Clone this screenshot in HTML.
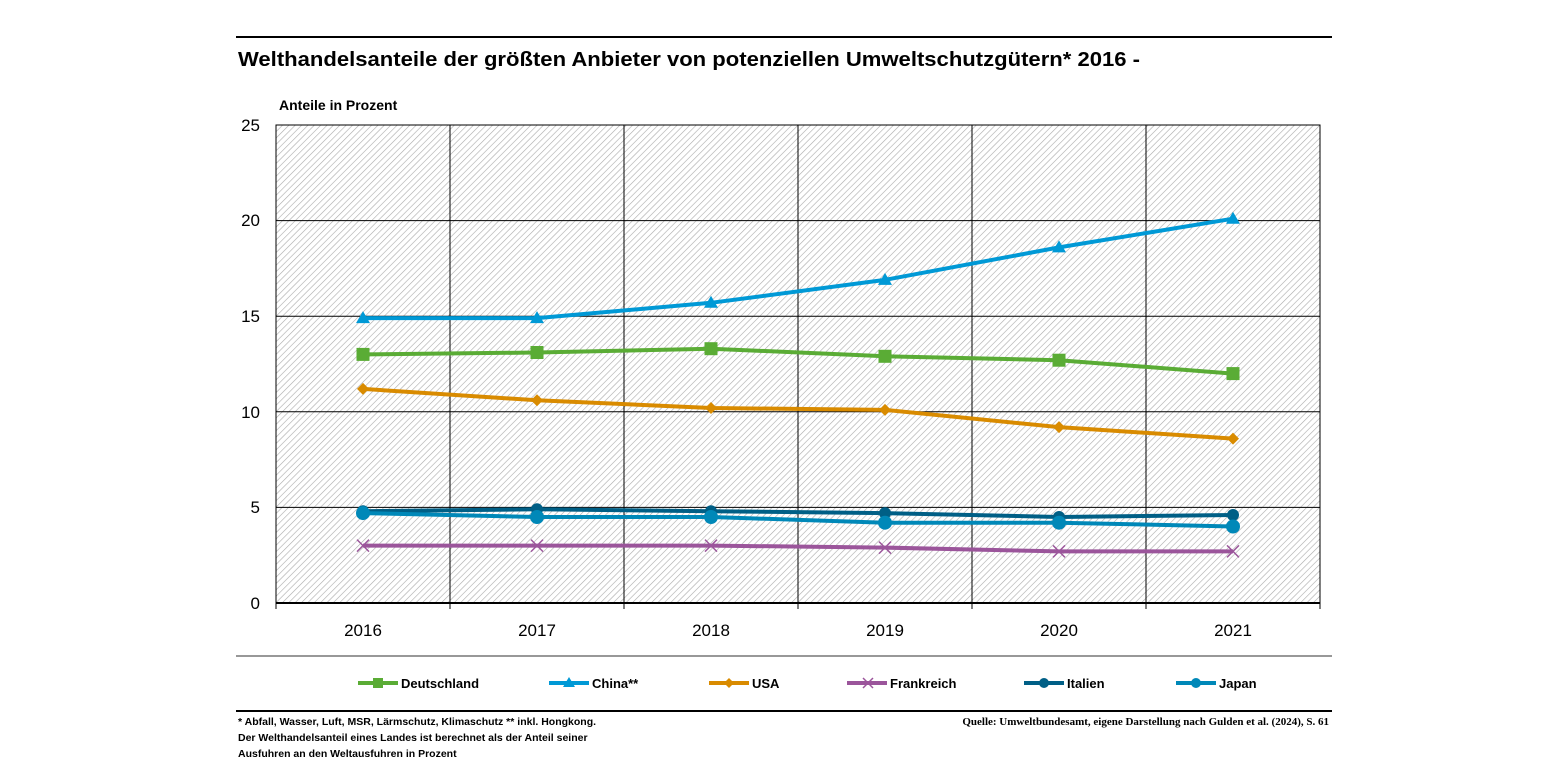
<!DOCTYPE html>
<html><head><meta charset="utf-8"><style>
body{margin:0;background:#fff;}
svg text{font-family:"Liberation Sans",sans-serif;}
svg text.s{font-family:"Liberation Serif",serif;}
</style></head><body>
<svg width="1545" height="775" xmlns="http://www.w3.org/2000/svg">
<defs>
<pattern id="h" width="4.5" height="4.5" patternUnits="userSpaceOnUse" patternTransform="rotate(45)">
<rect width="5" height="5" fill="#fff"/><line x1="0" y1="0" x2="0" y2="5" stroke="#aaa" stroke-width="1.2"/>
</pattern>
</defs>
<line x1="236" y1="37" x2="1332" y2="37" stroke="#000" stroke-width="2"/>
<text x="238" y="66" font-size="20" font-weight="bold" textLength="902" lengthAdjust="spacingAndGlyphs">Welthandelsanteile der größten Anbieter von potenziellen Umweltschutzgütern* 2016 -</text>
<text x="279" y="110" font-size="14" font-weight="bold">Anteile in Prozent</text>
<rect x="276" y="125" width="1044" height="478" fill="url(#h)" stroke="#000"/>
<g stroke="#000" stroke-width="1">
<line x1="276" y1="220.6" x2="1320" y2="220.6"/><line x1="276" y1="316.2" x2="1320" y2="316.2"/>
<line x1="276" y1="411.8" x2="1320" y2="411.8"/><line x1="276" y1="507.4" x2="1320" y2="507.4"/>
<line x1="450" y1="125" x2="450" y2="609"/><line x1="624" y1="125" x2="624" y2="609"/>
<line x1="798" y1="125" x2="798" y2="609"/><line x1="972" y1="125" x2="972" y2="609"/>
<line x1="1146" y1="125" x2="1146" y2="609"/><line x1="1320" y1="125" x2="1320" y2="609"/>
<line x1="276" y1="603" x2="276" y2="609"/>
</g>
<line x1="276" y1="603" x2="1320" y2="603" stroke="#000" stroke-width="2"/>
<g font-size="17" text-anchor="end">
<text x="260" y="131">25</text><text x="260" y="226">20</text><text x="260" y="322">15</text>
<text x="260" y="418">10</text><text x="260" y="513">5</text><text x="260" y="609">0</text>
</g>
<g font-size="17" text-anchor="middle">
<text x="363" y="636">2016</text><text x="537" y="636">2017</text><text x="711" y="636">2018</text>
<text x="885" y="636">2019</text><text x="1059" y="636">2020</text><text x="1233" y="636">2021</text>
</g>
<g fill="none" stroke-width="4" stroke-linejoin="round">
<polyline stroke="#9b559b" points="363,545.6 537,545.6 711,545.6 885,547.6 1059,551.4 1233,551.4"/>
<polyline stroke="#005f86" points="363,511.2 537,509.3 711,511.2 885,513.1 1059,517 1233,515"/>
<polyline stroke="#0088b8" points="363,513.1 537,517 711,517 885,522.7 1059,522.7 1233,526.5"/>
<polyline stroke="#d98b00" points="363,388.9 537,400.3 711,408 885,409.9 1059,427.1 1233,438.6"/>
<polyline stroke="#5aac35" points="363,354.4 537,352.5 711,348.7 885,356.3 1059,360.2 1233,373.6"/>
<polyline stroke="#0099d6" points="363,318.1 537,318.1 711,302.8 885,279.9 1059,247.4 1233,218.7"/>
</g>
<g stroke="#9b559b" stroke-width="1.5">
<path d="M357,539.6l12,12M369,539.6l-12,12M531,539.6l12,12M543,539.6l-12,12M705,539.6l12,12M717,539.6l-12,12M879,541.6l12,12M891,541.6l-12,12M1053,545.4l12,12M1065,545.4l-12,12M1227,545.4l12,12M1239,545.4l-12,12"/>
</g>
<g fill="#005f86"><circle cx="363" cy="511.2" r="6"/><circle cx="537" cy="509.3" r="6"/><circle cx="711" cy="511.2" r="6"/><circle cx="885" cy="513.1" r="6"/><circle cx="1059" cy="517" r="6"/><circle cx="1233" cy="515" r="6"/></g>
<g fill="#0088b8"><circle cx="363" cy="513.1" r="7"/><circle cx="537" cy="517" r="7"/><circle cx="711" cy="517" r="7"/><circle cx="885" cy="522.7" r="7"/><circle cx="1059" cy="522.7" r="7"/><circle cx="1233" cy="526.5" r="7"/></g>
<g fill="#d98b00"><path d="M363,382.9l6,6-6,6-6-6z"/><path d="M537,394.3l6,6-6,6-6-6z"/><path d="M711,402l6,6-6,6-6-6z"/><path d="M885,403.9l6,6-6,6-6-6z"/><path d="M1059,421.1l6,6-6,6-6-6z"/><path d="M1233,432.6l6,6-6,6-6-6z"/></g>
<g fill="#5aac35"><rect x="356.5" y="347.9" width="13" height="13"/><rect x="530.5" y="346" width="13" height="13"/><rect x="704.5" y="342.2" width="13" height="13"/><rect x="878.5" y="349.8" width="13" height="13"/><rect x="1052.5" y="353.7" width="13" height="13"/><rect x="1226.5" y="367.1" width="13" height="13"/></g>
<g fill="#0099d6"><path d="M363,311.1l7,12h-14z"/><path d="M537,311.1l7,12h-14z"/><path d="M711,295.8l7,12h-14z"/><path d="M885,272.9l7,12h-14z"/><path d="M1059,240.4l7,12h-14z"/><path d="M1233,211.7l7,12h-14z"/></g>
<line x1="236" y1="656" x2="1332" y2="656" stroke="#777" stroke-width="1.5"/>
<g font-size="13" font-weight="bold">
<line x1="358" y1="683" x2="398" y2="683" stroke="#5aac35" stroke-width="4"/><rect x="373" y="678" width="10" height="10" fill="#5aac35"/><text x="401" y="688">Deutschland</text>
<line x1="549" y1="683" x2="589" y2="683" stroke="#0099d6" stroke-width="4"/><path d="M569,677l6,10h-12z" fill="#0099d6"/><text x="592" y="688">China**</text>
<line x1="709" y1="683" x2="749" y2="683" stroke="#d98b00" stroke-width="4"/><path d="M729,678l5,5-5,5-5-5z" fill="#d98b00"/><text x="752" y="688">USA</text>
<line x1="847" y1="683" x2="887" y2="683" stroke="#9b559b" stroke-width="4"/><path d="M863,678l10,10M873,678l-10,10" stroke="#9b559b" stroke-width="1.5"/><text x="890" y="688">Frankreich</text>
<line x1="1024" y1="683" x2="1064" y2="683" stroke="#005f86" stroke-width="4"/><circle cx="1044" cy="683" r="5" fill="#005f86"/><text x="1067" y="688">Italien</text>
<line x1="1176" y1="683" x2="1216" y2="683" stroke="#0088b8" stroke-width="4"/><circle cx="1196" cy="683" r="5" fill="#0088b8"/><text x="1219" y="688">Japan</text>
</g>
<line x1="236" y1="711" x2="1332" y2="711" stroke="#000" stroke-width="2"/>
<g font-size="10.5" font-weight="bold">
<text x="238" y="725">* Abfall, Wasser, Luft, MSR, Lärmschutz, Klimaschutz ** inkl. Hongkong.</text>
<text x="238" y="741">Der Welthandelsanteil eines Landes ist berechnet als der Anteil seiner</text>
<text x="238" y="757">Ausfuhren an den Weltausfuhren in Prozent</text>
<text class="s" x="1329" y="725" text-anchor="end" font-size="11">Quelle: Umweltbundesamt, eigene Darstellung nach Gulden et al. (2024), S. 61</text>
</g>
</svg>
</body></html>
